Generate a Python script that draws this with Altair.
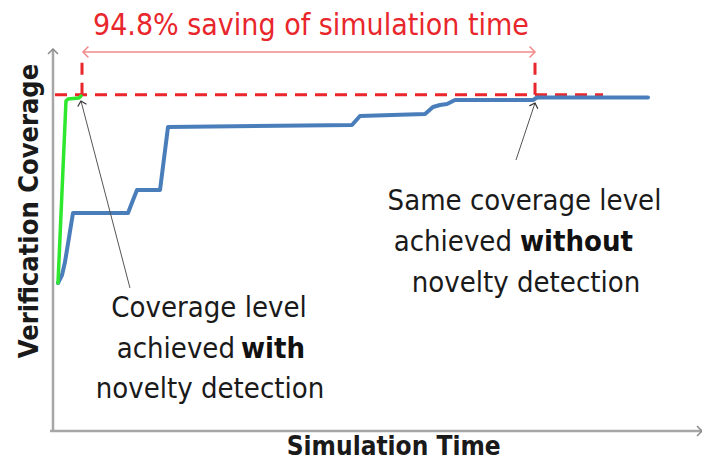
import altair as alt
import pandas as pd

# ---- data (x: simulation time, y: verification coverage; arbitrary 0-100 units) ----
blue_time = [0.77, 1.39, 1.85, 3.08, 11.56, 12.33, 12.94, 16.49, 17.72, 46.07, 47.30,
             57.32, 58.55, 59.63, 60.71, 61.94, 73.96, 74.58, 91.68]
blue_cov = [38.74, 40.84, 44.24, 57.07, 57.07, 60.47, 63.09, 63.09, 79.58, 80.10, 82.46,
            82.98, 84.82, 85.34, 85.60, 86.65, 86.65, 87.30, 87.30]
green_time = [0.77, 2.00, 2.31, 4.01, 4.31]
green_cov = [38.74, 86.39, 86.91, 87.17, 87.70]

target_cov = 88.0          # coverage level reached
target_end = 84.75         # end of dashed level line
t_with = 4.47              # time reached with novelty detection
t_without = 74.27          # time reached without novelty detection
bracket_top = 96.6
span_arrow_y = 99.2

title_text = "94.8% saving of simulation time"
x_title = "Simulation Time"
y_title = "Verification Coverage"

FONT = "DejaVu Sans Condensed, DejaVu Sans"
RED = "#e8262b"

xs = alt.Scale(domain=[0, 100], nice=False, zero=False)
ys = alt.Scale(domain=[0, 100], nice=False, zero=False)


def X(f):
    return alt.X(f, type="quantitative", scale=xs, axis=None)


def Y(f):
    return alt.Y(f, type="quantitative", scale=ys, axis=None)


# axes
axes_df = pd.DataFrame({"x": [-0.46, 0], "x2": [100, 0], "y": [0, 0], "y2": [0, 100]})
axes = alt.Chart(axes_df).mark_rule(color="#a6a6a6", strokeWidth=2.5).encode(
    x=X("x"), x2="x2", y=Y("y"), y2="y2")

axis_heads_df = pd.DataFrame({"x": [100, 0], "y": [0, 100], "a": [90, 0]})
axis_heads = alt.Chart(axis_heads_df).mark_point(
    shape="M -1 1 L 0 0 L 1 1", filled=False, color="#8a8a8a", strokeWidth=1.5,
    size=100, opacity=1).encode(x=X("x"), y=Y("y"), angle=alt.Angle("a:Q", scale=None))

# curves
blue_df = pd.DataFrame({"t": blue_time, "c": blue_cov})
blue = alt.Chart(blue_df).mark_line(color="#4a7ebb", strokeWidth=4, strokeJoin="round",
                                    strokeCap="round").encode(x=X("t"), y=Y("c"))
green_df = pd.DataFrame({"t": green_time, "c": green_cov})
green = alt.Chart(green_df).mark_line(color="#2ee82e", strokeWidth=3.5, strokeJoin="round",
                                      strokeCap="round").encode(x=X("t"), y=Y("c"))

# red dashed guides
dash_df = pd.DataFrame({
    "x": [0.31, t_with, t_without],
    "x2": [target_end, t_with, t_without],
    "y": [target_cov, target_cov, target_cov],
    "y2": [target_cov, bracket_top, bracket_top],
})
dashes = alt.Chart(dash_df).mark_rule(color=RED, strokeWidth=3, strokeDash=[12, 8]).encode(
    x=X("x"), x2="x2", y=Y("y"), y2="y2")

span_df = pd.DataFrame({"x": [t_with + 0.15], "x2": [t_without], "y": [span_arrow_y]})
span = alt.Chart(span_df).mark_rule(color="#f08a8a", strokeWidth=1.5).encode(
    x=X("x"), x2="x2", y=Y("y"))
span_heads_df = pd.DataFrame({"x": [t_with + 0.15, t_without], "y": [span_arrow_y] * 2,
                              "a": [270, 90]})
span_heads = alt.Chart(span_heads_df).mark_point(
    shape="M -1 1 L 0 0 L 1 1", filled=False, color="#f08a8a", strokeWidth=1.5,
    size=120, opacity=1).encode(x=X("x"), y=Y("y"), angle=alt.Angle("a:Q", scale=None))

title = alt.Chart(pd.DataFrame({"x": [39.75], "y": [103.66], "t": [title_text]})).mark_text(
    font=FONT, fontSize=30, color=RED, align="center", baseline="alphabetic").encode(
    x=X("x"), y=Y("y"), text="t:N")

# black annotation arrows
ann_df = pd.DataFrame({"x": [11.86, 71.34], "x2": [4.31, 74.27],
                       "y": [37.43, 70.94], "y2": [86.39, 85.86]})
ann_lines = alt.Chart(ann_df).mark_rule(color="#555555", strokeWidth=1).encode(
    x=X("x"), x2="x2", y=Y("y"), y2="y2")
ann_heads_df = pd.DataFrame({"x": [4.31, 74.27], "y": [86.39, 85.86], "a": [345.3, 18.4]})
ann_heads = alt.Chart(ann_heads_df).mark_point(
    shape="M -1 1 L 0 0 L 1 1", filled=False, color="#333333", strokeWidth=1.2,
    size=80, opacity=1).encode(x=X("x"), y=Y("y"), angle=alt.Angle("a:Q", scale=None))

# annotation text
center_df = pd.DataFrame({
    "x": [24.04, 24.19, 72.65, 72.88],
    "y": [29.84, 8.64, 57.85, 36.39],
    "t": ["Coverage level", "novelty detection", "Same coverage level", "novelty detection"],
})
center_txt = alt.Chart(center_df).mark_text(
    font=FONT, fontSize=29, color="#1a1a1a", align="center", baseline="alphabetic").encode(
    x=X("x"), y=Y("y"), text="t:N")
right_df = pd.DataFrame({"x": [28.04, 70.72], "y": [19.11, 47.12], "t": ["achieved", "achieved"]})
right_txt = alt.Chart(right_df).mark_text(
    font=FONT, fontSize=29, color="#1a1a1a", align="right", baseline="alphabetic").encode(
    x=X("x"), y=Y("y"), text="t:N")
bold_df = pd.DataFrame({"x": [28.97, 71.96], "y": [19.11, 47.12], "t": ["with", "without"]})
bold_txt = alt.Chart(bold_df).mark_text(
    font=FONT, fontSize=29, fontWeight="bold", color="#111111", align="left",
    baseline="alphabetic").encode(x=X("x"), y=Y("y"), text="t:N")

# axis titles
xt = alt.Chart(pd.DataFrame({"x": [52.5], "y": [-6.4], "t": [x_title]})).mark_text(
    font=FONT, fontSize=26, fontWeight="bold", color="#1a1a1a", align="center",
    baseline="alphabetic").encode(x=X("x"), y=Y("y"), text="t:N")
yt = alt.Chart(pd.DataFrame({"x": [-3.54], "y": [57.6], "t": [y_title]})).mark_text(
    font=FONT, fontSize=27, fontWeight="bold", color="#1a1a1a", align="center",
    baseline="middle", angle=270).encode(x=X("x"), y=Y("y"), text="t:N")

chart = alt.layer(
    axes, axis_heads, dashes, span, span_heads, title, blue, green,
    ann_lines, ann_heads, center_txt, right_txt, bold_txt, xt, yt,
).properties(
    width=649, height=382,
    autosize=alt.AutoSizeParams(type="none"),
    padding={"left": 45, "top": 41, "right": 0, "bottom": 32},
    background="white",
).configure_view(stroke=None)

chart.save("out.html", embed_options={"renderer": "svg", "actions": False})
